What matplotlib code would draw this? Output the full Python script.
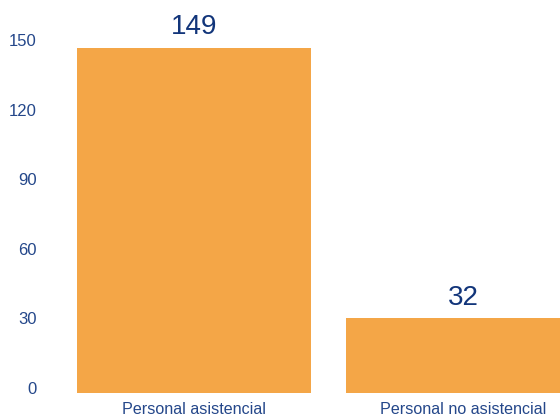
import matplotlib
matplotlib.use("Agg")
import matplotlib.pyplot as plt
import matplotlib.transforms as mtransforms
from matplotlib import font_manager

categories = ["Personal asistencial", "Personal no asistencial"]
values = [149, 32]
yticks = [0, 30, 60, 90, 120, 150]

names = {f.name for f in font_manager.fontManager.ttflist}
fam = "Liberation Sans Narrow" if "Liberation Sans Narrow" in names else "Liberation Sans"
plt.rcParams["font.family"] = [fam, "DejaVu Sans"]

bar_color = "#F4A647"
text_color = "#24478A"
label_color = "#12357A"

fig = plt.figure(figsize=(5.6, 4.19), dpi=100)
ax = fig.add_axes([48/560, 26.5/419, 512/560, 347/419])
x = list(range(len(categories)))
bars = ax.bar(x, values, width=0.87, color=bar_color)
ax.set_xlim(-0.543, 1.361)
ax.set_ylim(0, 150)
ax.set_yticks(yticks)
ax.set_xticks(x)
ax.set_xticklabels(categories, fontsize=11.6, color=text_color)
ax.tick_params(axis="both", length=0)
ax.tick_params(axis="x", pad=7)
ax.tick_params(axis="y", pad=8, labelsize=12, labelcolor=text_color)
for lab in ax.get_yticklabels():
    lab.set_transform(lab.get_transform() + mtransforms.ScaledTranslation(0, 5/100, fig.dpi_scale_trans))
for s in ax.spines.values():
    s.set_visible(False)
for xi, v in zip(x, values):
    ax.annotate(str(v), (xi, v), xytext=(0, 5.5), textcoords="offset points",
                ha="center", va="bottom", fontsize=20, color=label_color, clip_on=False)
fig.savefig("out.png", dpi=100)
